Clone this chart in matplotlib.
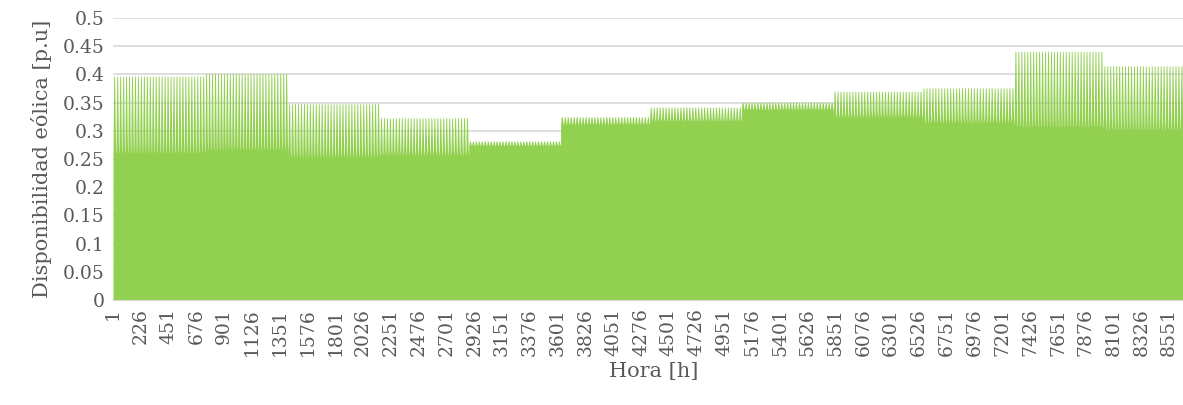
import numpy as np
import matplotlib
matplotlib.use("Agg")
import matplotlib.pyplot as plt

# Monthly typical-day levels (p.u.)
months = ["Ene", "Feb", "Mar", "Abr", "May", "Jun", "Jul", "Ago", "Sep", "Oct", "Nov", "Dic"]
days_in_month = [31, 28, 31, 30, 31, 30, 31, 31, 30, 31, 30, 31]
month_low = [0.262, 0.268, 0.255, 0.258, 0.274, 0.312, 0.318, 0.338, 0.325, 0.315, 0.308, 0.303]
month_peak = [0.397, 0.402, 0.348, 0.323, 0.282, 0.325, 0.342, 0.351, 0.370, 0.376, 0.441, 0.415]
# Typical daily shape (0 = monthly low, 1 = monthly peak), hours 0..23
day_shape = [0.00, 0.20, 0.40, 0.55, 0.70, 0.85, 1.00, 1.00, 1.00, 1.00, 1.00, 1.00,
             1.00, 1.00, 0.90, 0.75, 0.60, 0.45, 0.30, 0.20, 0.10, 0.05, 0.00, 0.00]

tick_step = 225

values = []
for lo, pk, nd in zip(month_low, month_peak, days_in_month):
    day = [lo + (pk - lo) * s for s in day_shape]
    values.extend(day * nd)
values = np.array(values)
hours = np.arange(1, len(values) + 1)

text_color = "#595959"
font = "DejaVu Serif"

fig = plt.figure(figsize=(11.83, 4.05), dpi=100)
# plot area runs past the right edge of the image (as in the reference)
ax = fig.add_axes([0.0955, 0.259, 1082 / 1183, 0.6966])

ax.fill_between(hours, 0, values, color="#92D050", linewidth=0, antialiased=False)

ax.set_xlim(0.5, len(values) + 0.5)
ax.set_ylim(0, 0.5)
yt = np.arange(0, 0.5001, 0.05)
ax.set_yticks(yt)
ax.set_yticklabels([f"{v:.2f}".rstrip("0").rstrip(".") if v > 0 else "0" for v in yt],
                   fontsize=13.5, color=text_color, family=font)
xt = np.arange(1, len(values) + 1, tick_step)
ax.set_xticks(xt)
ax.set_xticklabels([str(v) for v in xt], rotation=90, fontsize=13.5,
                   color=text_color, family=font)
ax.tick_params(axis="both", length=0, pad=6)
ax.grid(axis="y", color="#D9D9D9", linewidth=1.2)
ax.set_axisbelow(True)
for s in ["top", "right", "left"]:
    ax.spines[s].set_visible(False)
ax.spines["bottom"].set_color("#D9D9D9")

ax.set_xlabel("Hora [h]", fontsize=15, color=text_color, family=font, labelpad=4)
ax.set_ylabel("Disponibilidad eólica [p.u]", fontsize=15, color=text_color, family=font, labelpad=8)

fig.savefig("out.png", dpi=100)
